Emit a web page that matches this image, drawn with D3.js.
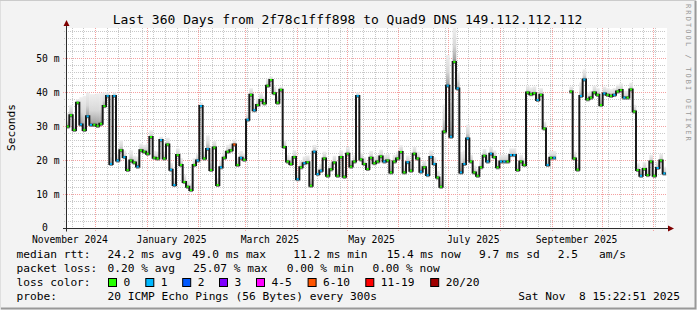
<!DOCTYPE html>
<html>
<head>
<meta charset="utf-8">
<script src="https://cdn.jsdelivr.net/npm/d3@7"></script>
<style>
  body { margin: 0; background: #fff; }
  svg text { font-family: "DejaVu Sans Mono", monospace; white-space: pre; }
</style>
</head>
<body>
<div id="chart"></div>
<script>
// time range of the graph (360 days, 2 day steps)
var startTime = new Date(Date.UTC(2024, 10, 13, 15, 22, 51));
var endTime = new Date(Date.UTC(2025, 10, 8, 15, 22, 51));
var stepDays = 2;

// median rtt in ms, one value per 2 day step (null = no data)
var medianRtt = [
  30, 33.3, 29, 37, 30.6, 29, 33, 30.5, 30.5, 30.2,
  30.8, 36, 39, 19, 39, 20, 23, 21, 17.2, 20,
  19.4, 18.2, 23, 22.6, 22, 26.9, 20.8, 20.6, 26, 20.6,
  24.7, 17.3, 12.8, 21.6, 18.7, 13.7, 12.3, 11.3, 18.7, 20,
  36, 20.6, 23.4, 17.2, 23.8, 12.8, 18, 20.8, 22.6, 23,
  24.7, 18.7, 20.8, 20.2, 32, 39.3, 34.8, 36.3, 37.8, 36.8,
  42, 43.7, 39.8, 37, 40.8, 24, 19.7, 19, 21, 14.5,
  18, 19.2, 19.5, 12.6, 22.6, 16, 17, 20.6, 15.5, 17.4,
  19.4, 15.5, 21, 15.2, 22, 18.2, 19.7, 39, 20.3, 19,
  17.5, 20.8, 19.2, 19.7, 21.2, 19.7, 20, 16.5, 19.7, 20.6,
  22.5, 16.5, 19.5, 17, 22, 20.6, 16.7, 18, 15.7, 21,
  19, 15, 12.3, 28.5, 42, 27, 49, 41.2, 16.5, 19,
  26.5, 19.7, 16.5, 15.5, 18, 21.4, 19.7, 22, 21, 18,
  19.7, 19.7, 19.7, 21.6, 21.6, 17.2, 19.7, 18.7, 40, 39.5,
  39.8, 37.8, 39.3, 29.4, 18.7, 20.8, 20.8, null, null, null,
  null, 40.3, 20.6, 17.3, 39, 43.8, 38, 38.5, 40, 39.3,
  36.3, 39.7, 39.3, 39, 39.3, 40.3, 40.7, 38.5, 38.5, 40.9,
  34.4, 17.2, 15.5, 17.5, 15.7, 19.7, 15.5, 17.8, 20, 16.2
];

// loss colour class per step (index into lossColors)
var lossClass = [
  0, 0, 0, 0, 1, 0, 1, 1, 0, 0,
  0, 0, 1, 1, 1, 1, 0, 1, 0, 0,
  0, 1, 0, 0, 0, 0, 0, 0, 1, 0,
  0, 1, 1, 0, 0, 0, 0, 0, 0, 1,
  1, 0, 1, 0, 0, 0, 1, 0, 0, 0,
  5, 0, 1, 0, 1, 0, 1, 0, 0, 0,
  0, 0, 0, 0, 0, 0, 0, 0, 0, 1,
  0, 1, 0, 0, 1, 1, 1, 0, 0, 0,
  0, 0, 0, 0, 0, 0, 0, 1, 0, 0,
  0, 0, 0, 0, 0, 1, 0, 0, 0, 0,
  0, 0, 1, 0, 0, 0, 1, 0, 1, 1,
  1, 0, 0, 0, 1, 1, 0, 1, 1, 1,
  1, 0, 0, 0, 0, 0, 1, 1, 0, 0,
  1, 1, 0, 1, 1, 0, 0, 0, 0, 0,
  0, 1, 0, 0, 1, 0, 1, 0, 0, 0,
  0, 0, 0, 0, 1, 1, 0, 0, 0, 0,
  0, 1, 0, 0, 1, 0, 0, 1, 0, 0,
  0, 0, 1, 0, 0, 0, 0, 1, 0, 1
];

// how far the ping smoke reaches above the median (ms)
var smokeSpread = [
  4, 3, 3, 1, 8, 10, 7, 9, 9, 9.5,
  9, 4, 1, 2, 1, 2, 3, 2, 3, 3,
  2, 3, 2, 2, 3, 2, 2, 2, 1, 2,
  2, 2, 2, 2, 2, 2, 2, 2, 2, 2,
  1, 2, 4, 2, 2, 2, 2, 2, 2, 2,
  1.5, 2, 2, 2, 2, 2, 2, 2, 2, 2,
  2, 1, 2, 2, 1, 2, 2, 2, 2, 2,
  2, 2, 2, 2, 2, 2, 2, 2, 2, 2,
  2, 2, 2, 2, 2, 2, 2, 1, 2, 2,
  2, 2, 2, 2, 2, 2, 2, 2, 2, 2,
  2, 2, 2, 2, 2, 2, 2, 2, 2, 2,
  2, 2, 3, 8, 9, 10, 10, 5, 6, 4,
  4, 2, 2, 2, 2, 2, 2, 2, 2, 2,
  2, 2, 2, 2, 2, 2, 2, 2, 2, 2,
  2, 2, 2, 2, 2, 2, 2, 0, 0, 0,
  0, 1.5, 2, 2, 4, 3, 2, 2, 2, 2,
  2, 2, 2, 2, 2, 2, 2, 2, 2, 2,
  2, 2, 2, 2, 2, 2, 2, 2, 2, 2
];

// axis labels
var yTicks = [0, 10, 20, 30, 40, 50];
var yTickLabels = ["0  ", "10 m", "20 m", "30 m", "40 m", "50 m"];
var monthLabels = ["November 2024", "January 2025", "March 2025", "May 2025", "July 2025", "September 2025"];

// legend
var lossColors = ["#26ff00", "#00b8ff", "#0059ff", "#7e00ff", "#ff00ff", "#ff5500", "#ff0000", "#a00000"];
var lossLabels = ["0", "1", "2", "3", "4-5", "6-10", "11-19", "20/20"];
var rttStats = ["24.2 ms avg", "49.0 ms max", "11.2 ms min", "15.4 ms now", "9.7 ms sd", "2.5", "am/s"];
var lossStats = ["0.20 % avg", "25.07 % max", "0.00 % min", "0.00 % now"];

var svgWidth = 697;
var svgHeight = 310;

var plot = { left: 66, top: 28, width: 600, height: 200 };

var svg = d3.select("#chart")
  .append("svg")
  .attr("width", svgWidth)
  .attr("height", svgHeight);

// background + 3d frame
svg.append("rect").attr("width", svgWidth).attr("height", svgHeight).attr("fill", "#f3f3f3");
svg.append("path").attr("d", "M0,309.5 V0.5 H696").attr("fill", "none").attr("stroke", "#cbcbcb").attr("stroke-width", 1);
svg.append("path").attr("d", "M1,308.5 H695.5 V1").attr("fill", "none").attr("stroke", "#999").attr("stroke-width", 2);

svg.append("rect")
  .attr("x", plot.left).attr("y", plot.top)
  .attr("width", plot.width + 1).attr("height", plot.height + 1)
  .attr("fill", "#fff");

var xScale = d3.scaleUtc()
  .domain([startTime, endTime])
  .range([plot.left, plot.left + plot.width]);

var yScale = d3.scaleLinear()
  .domain([0, 58.82])
  .range([plot.top + plot.height + 0.5, plot.top + 0.5]);

var grid = svg.append("g");

// minor grid: weeks and every 2 ms
d3.utcSunday.range(startTime, endTime).forEach(function(d) {
  var x = Math.round(xScale(d)) + 0.5;
  grid.append("line")
    .attr("x1", x).attr("x2", x)
    .attr("y1", plot.top).attr("y2", plot.top + plot.height + 2)
    .attr("stroke", "#c8c8c8").attr("stroke-dasharray", "1,1");
});
d3.range(2, 59, 2).filter(function(v) { return v % 10 != 0; }).forEach(function(v) {
  var y = Math.round(yScale(v) - 0.5) + 0.5;
  grid.append("line")
    .attr("x1", plot.left - 2).attr("x2", plot.left + plot.width)
    .attr("y1", y).attr("y2", y)
    .attr("stroke", "#c8c8c8").attr("stroke-dasharray", "1,1");
});

// major grid: months and every 10 ms
d3.utcMonth.range(startTime, endTime).forEach(function(d) {
  var x = Math.round(xScale(d)) + 0.5;
  grid.append("line")
    .attr("x1", x).attr("x2", x)
    .attr("y1", plot.top).attr("y2", plot.top + plot.height + 3)
    .attr("stroke", "#f4a0a0").attr("stroke-dasharray", "1,1");
});
yTicks.slice(1).forEach(function(v) {
  var y = Math.round(yScale(v) - 0.5) + 0.5;
  grid.append("line")
    .attr("x1", plot.left - 3).attr("x2", plot.left + plot.width)
    .attr("y1", y).attr("y2", y)
    .attr("stroke", "#f4a0a0").attr("stroke-dasharray", "1,1");
});

// points of the series
var points = medianRtt.map(function(v, i) {
  return {
    t0: d3.utcDay.offset(startTime, i * stepDays),
    t1: d3.utcDay.offset(startTime, (i + 1) * stepDays),
    v: v,
    loss: lossClass[i],
    spread: smokeSpread[i]
  };
});
var known = points.filter(function(d) { return d.v != null; });

// smoke
var defs = svg.append("defs");
var grad = defs.append("linearGradient")
  .attr("id", "smoke")
  .attr("x1", 0).attr("y1", 0).attr("x2", 0).attr("y2", 1);
grad.append("stop").attr("offset", "0%").attr("stop-color", "#eeeeee");
grad.append("stop").attr("offset", "50%").attr("stop-color", "#d8d8d8");
grad.append("stop").attr("offset", "85%").attr("stop-color", "#a8a8a8");
grad.append("stop").attr("offset", "100%").attr("stop-color", "#707070");

svg.append("g").selectAll("rect")
  .data(known)
  .enter()
  .append("rect")
  .attr("x", d => xScale(d.t0))
  .attr("width", d => xScale(d.t1) - xScale(d.t0) + 0.3)
  .attr("y", d => yScale(d.v + d.spread))
  .attr("height", d => yScale(d.v) - yScale(d.v + d.spread) + 2)
  .attr("fill", "url(#smoke)");

// median as a step line
var stepVerts = [];
points.forEach(function(d) {
  stepVerts.push({ t: d.t0, v: d.v });
  stepVerts.push({ t: d.t1, v: d.v });
});
var stepLine = d3.line()
  .defined(d => d.v != null)
  .x(d => xScale(d.t))
  .y(d => yScale(d.v));

svg.append("path")
  .datum(stepVerts)
  .attr("d", stepLine)
  .attr("fill", "none")
  .attr("stroke", "#1a1a1a")
  .attr("stroke-width", 2);

svg.append("g").selectAll("line")
  .data(known)
  .enter()
  .append("line")
  .attr("x1", d => xScale(d.t0) + 0.6)
  .attr("x2", d => xScale(d.t1) - 0.6)
  .attr("y1", d => yScale(d.v))
  .attr("y2", d => yScale(d.v))
  .attr("stroke", d => lossColors[d.loss])
  .attr("stroke-width", 2);

// axes with arrows
var axisY0 = plot.top + plot.height + 0.5;
svg.append("line")
  .attr("x1", plot.left - 3).attr("x2", plot.left + plot.width + 3)
  .attr("y1", axisY0).attr("y2", axisY0)
  .attr("stroke", "#2c2c2c");
svg.append("line")
  .attr("x1", plot.left + 0.5).attr("x2", plot.left + 0.5)
  .attr("y1", axisY0 + 3).attr("y2", plot.top - 4)
  .attr("stroke", "#2c2c2c");
svg.append("path")
  .attr("d", "M668," + (axisY0 - 3) + " L674," + axisY0 + " L668," + (axisY0 + 3) + " Z")
  .attr("fill", "#7f0000");
svg.append("path")
  .attr("d", "M" + (plot.left - 2.5) + ",26 L" + (plot.left + 0.5) + ",20 L" + (plot.left + 3.5) + ",26 Z")
  .attr("fill", "#7f0000");

// y labels
svg.append("g").selectAll("text")
  .data(yTicks)
  .enter()
  .append("text")
  .attr("x", 59.5)
  .attr("y", d => yScale(d) + (d == 0 ? 2.5 : 3.5))
  .attr("text-anchor", "end")
  .attr("font-size", "9.7px")
  .text((d, i) => yTickLabels[i]);

// month labels, centred half a month after the month start
var labelMonths = d3.utcMonth.every(2).range(d3.utcMonth.floor(startTime), endTime);
svg.append("g").selectAll("text")
  .data(labelMonths)
  .enter()
  .append("text")
  .attr("x", d => xScale(d3.utcDay.offset(d, 15)))
  .attr("y", 242.5)
  .attr("text-anchor", "middle")
  .attr("font-size", "9.7px")
  .text((d, i) => monthLabels[i]);

// title and unit
svg.append("text")
  .attr("x", 347.5)
  .attr("y", 24)
  .attr("text-anchor", "middle")
  .attr("font-size", "13px")
  .text("Last 360 Days from 2f78c1fff898 to Quad9 DNS 149.112.112.112");

svg.append("text")
  .attr("transform", "translate(14.5, 127.5) rotate(-90)")
  .attr("text-anchor", "middle")
  .attr("font-size", "11.2px")
  .text("Seconds");

svg.append("text")
  .attr("transform", "translate(686, 4) rotate(90)")
  .attr("font-size", "7px")
  .attr("letter-spacing", "2.1px")
  .attr("fill", "#999")
  .text("RRDTOOL / TOBI OETIKER");

// legend
var legend = svg.append("g").attr("font-size", "11.2px");
var rowY = [257.5, 271.5, 285.5, 299.5];

legend.append("text").attr("x", 16.5).attr("y", rowY[0]).text("median rtt:");
var rttX = [107.6, 192, 293.3, 386.7, 479, 557.8, 599];
rttStats.forEach(function(s, i) {
  legend.append("text").attr("x", rttX[i]).attr("y", rowY[0]).text(s);
});

legend.append("text").attr("x", 16.5).attr("y", rowY[1]).text("packet loss:");
var lossX = [107.6, 193.3, 286.7, 372.4];
lossStats.forEach(function(s, i) {
  legend.append("text").attr("x", lossX[i]).attr("y", rowY[1]).text(s);
});

legend.append("text").attr("x", 16.5).attr("y", rowY[2]).text("loss color:");
var boxX = [108, 145.3, 182.2, 219, 256, 307.6, 365.3, 430.2];
lossColors.forEach(function(c, i) {
  legend.append("rect")
    .attr("x", boxX[i] + 0.5).attr("y", 278.5)
    .attr("width", 8).attr("height", 8)
    .attr("fill", c).attr("stroke", "#000");
  legend.append("text")
    .attr("x", boxX[i] + 15.5).attr("y", rowY[2])
    .text(lossLabels[i]);
});

legend.append("text").attr("x", 16.5).attr("y", rowY[3]).text("probe:");
legend.append("text").attr("x", 107.6).attr("y", rowY[3]).text("20 ICMP Echo Pings (56 Bytes) every 300s");
legend.append("text").attr("x", 680).attr("y", rowY[3]).attr("text-anchor", "end").text("Sat Nov  8 15:22:51 2025");
</script>
</body>
</html>
